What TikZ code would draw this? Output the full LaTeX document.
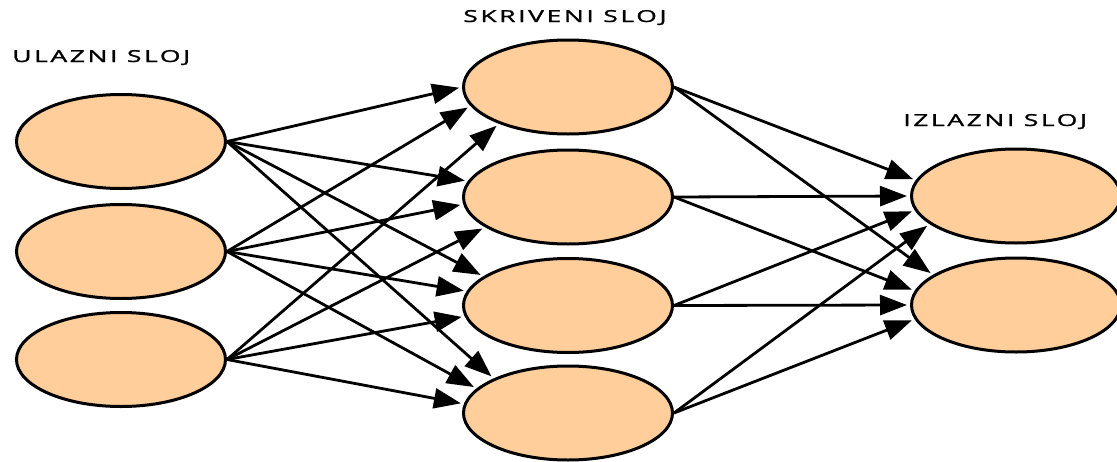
\documentclass[tikz,border=0pt]{standalone}
\usepackage{fontspec}
\usetikzlibrary{shapes.geometric,arrows.meta}
\newfontfamily\layerfont[LetterSpace=10,FakeBold=1.2]{Open Sans}
\definecolor{neuronfill}{RGB}{255,206,155}
\begin{document}
\begin{tikzpicture}
[x=1pt,y=-1pt,
 neurondecorate/.style={shape=ellipse,draw,line width=3pt,fill=neuronfill,
   minimum width=209pt,minimum height=94pt,inner sep=0pt},%
 linedecorate/.style={draw,-{Triangle[length=27pt,width=20pt]},line width=2.8pt,
   shorten >=3pt},%
 labeldecorate/.style={font=\layerfont\fontsize{16.5}{19}\selectfont,xscale=1.6,
   inner sep=0pt,anchor=base west}]
\useasboundingbox (0,0) rectangle (1117,461);
%% nodes or neurons
\foreach \nodename/\x/\y in {in1/121/141.5, in2/121/251.5, in3/121/359.5,
  h1/568/87, h2/568/197, h3/568/305.5, h4/568/413, o1/1016/196, o2/1016/305}
{
  \node (\nodename) at (\x,\y) [neurondecorate] {};
}
%% layer titles
\foreach \labelname/\x/\y/\layertitle in {ulaz/12/62/ULAZNI SLOJ,
  skriven/463/22/SKRIVENI SLOJ, izlaz/903/126/IZLAZNI SLOJ}
{
  \node (\labelname) at (\x,\y) [labeldecorate] {\layertitle};
}
%% edges or weights
\path
\foreach \startnode/\endnode/\navigate in {in1/h1/180, in1/h2/171, in1/h3/161,
  in1/h4/155, in2/h1/191, in2/h2/184, in2/h3/172, in2/h4/165, in3/h1/208,
  in3/h2/200, in3/h3/186, in3/h4/175, h1/o1/171, h1/o2/160, h2/o1/180,
  h2/o2/172, h3/o1/188, h3/o2/180, h4/o1/198, h4/o2/188}
{
  (\startnode.east) edge[linedecorate] (\endnode.\navigate)
};
\end{tikzpicture}
\end{document}
